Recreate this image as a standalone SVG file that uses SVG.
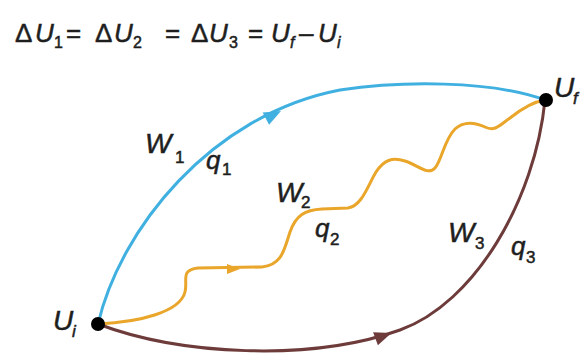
<svg xmlns="http://www.w3.org/2000/svg" width="585" height="355" viewBox="0 0 585 355">
<style>
text{font-family:"Liberation Sans",Arial,sans-serif;fill:#1e1e1e;stroke:#1e1e1e;stroke-width:0.5}
.it{font-style:italic}
.lbl{font-size:28px}
.lq{font-size:26px}
.sub{font-size:17px}
.eq{font-size:26px}
.esub{font-size:16px}
.path{fill:none;stroke-width:3;stroke-linecap:round;stroke-linejoin:round}
</style>
<rect width="585" height="355" fill="#ffffff"/>
<g id="equation">
<text class="eq" y="42"><tspan x="15">Δ</tspan><tspan x="35" class="it">U</tspan><tspan x="54" y="48" class="esub">1</tspan><tspan x="66" y="42">=</tspan><tspan x="95">Δ</tspan><tspan x="114" class="it">U</tspan><tspan x="133" y="48" class="esub">2</tspan><tspan x="165" y="42">=</tspan><tspan x="191">Δ</tspan><tspan x="209" class="it">U</tspan><tspan x="229" y="48" class="esub">3</tspan><tspan x="248" y="42">=</tspan><tspan x="271" class="it">U</tspan><tspan x="290" y="48" class="esub it">f</tspan><tspan x="299" y="42">–</tspan><tspan x="318" class="it">U</tspan><tspan x="337" y="48" class="esub it">i</tspan></text>
</g>
<g id="connectors">
<g id="path1">
<path class="path" stroke="#40b0e0" d="M98,324 C120,230 210,115 340,90 C400,81 490,80 545,100"/>
<polygon fill="#40b0e0" points="9,0 -8,-7 -8,7" transform="translate(273,115) rotate(-27)"/>
</g>
<g id="path2">
<path class="path" stroke="#e9a62a" d="M98,324 C140,322 180,312 185,292 C188,280 180,270 198,268 L262,267 C282,265 284,250 290,232 C296,215 305,210 322,209 L348,208 C362,206 368,185 376,172 C384,160 392,157 405,161 C418,165 428,176 435,168 C442,160 444,140 455,129 C464,121 474,122 485,127 C495,132 500,125 510,118 C520,110 532,102 545,100"/>
<polygon fill="#e9a62a" points="7,0 -6,-5 -6,5" transform="translate(233,269)"/>
</g>
<g id="path3">
<path class="path" stroke="#6e3b3b" d="M98,324 C180,355 310,362 400,330 C475,303 535,200 545,100"/>
<polygon fill="#6e3b3b" points="9,0 -8,-7 -8,7" transform="translate(383,336) rotate(-20)"/>
</g>
</g>
<g id="labels">
<text class="lbl it" x="145" y="153">W</text><text class="sub" x="175" y="163">1</text>
<text class="lq it" x="206" y="169">q</text><text class="sub" x="222" y="175">1</text>
<text class="lbl it" x="276" y="202">W</text><text class="sub" x="301" y="208">2</text>
<text class="lq it" x="315" y="237">q</text><text class="sub" x="330" y="245">2</text>
<text class="lbl it" x="448" y="242">W</text><text class="sub" x="475" y="249">3</text>
<text class="lq it" x="511" y="255">q</text><text class="sub" x="526" y="263">3</text>
</g>
<g id="node-Ui">
<circle cx="98" cy="324" r="7" fill="#000"/>
<text class="lbl it" x="53" y="330">U</text><text class="sub it" x="72" y="337">i</text>
</g>
<g id="node-Uf">
<circle cx="546" cy="100" r="7" fill="#000"/>
<text class="lbl it" x="554" y="97">U</text><text class="sub it" x="573" y="104">f</text>
</g>
</svg>
